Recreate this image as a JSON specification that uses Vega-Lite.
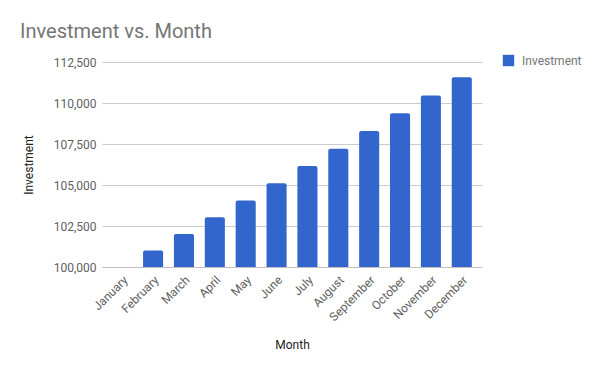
{
  "$schema": "https://vega.github.io/schema/vega-lite/v6.json",
  "width": 380,
  "height": 205,
  "autosize": {"type": "none"},
  "padding": {"left": 102, "top": 62, "right": 118, "bottom": 104},
  "background": "white",
  "title": {
    "text": "Investment vs. Month",
    "anchor": "start",
    "frame": "group",
    "dx": -82,
    "offset": 12,
    "fontSize": 20,
    "fontWeight": "normal",
    "font": "Roboto",
    "color": "#757575"
  },
  "config": {
    "view": {"stroke": null},
    "font": "Roboto"
  },
  "data": {
    "values": [
      {"Month": "January", "Investment": 100000, "Series": "Investment"},
      {"Month": "February", "Investment": 101000, "Series": "Investment"},
      {"Month": "March", "Investment": 102010, "Series": "Investment"},
      {"Month": "April", "Investment": 103030, "Series": "Investment"},
      {"Month": "May", "Investment": 104060, "Series": "Investment"},
      {"Month": "June", "Investment": 105101, "Series": "Investment"},
      {"Month": "July", "Investment": 106152, "Series": "Investment"},
      {"Month": "August", "Investment": 107214, "Series": "Investment"},
      {"Month": "September", "Investment": 108286, "Series": "Investment"},
      {"Month": "October", "Investment": 109369, "Series": "Investment"},
      {"Month": "November", "Investment": 110462, "Series": "Investment"},
      {"Month": "December", "Investment": 111567, "Series": "Investment"}
    ]
  },
  "mark": {"type": "bar", "cornerRadiusTopLeft": 2, "cornerRadiusTopRight": 2},
  "encoding": {
    "x": {
      "field": "Month",
      "type": "nominal",
      "sort": null,
      "scale": {"paddingInner": 0.35, "paddingOuter": 0.33},
      "axis": {
        "title": "Month",
        "titleFont": "Roboto",
        "titleFontWeight": "normal",
        "titleFontSize": 12,
        "titleColor": "#222222",
        "titlePadding": 17,
        "labelAngle": -45,
        "labelFontSize": 12,
        "labelColor": "#616161",
        "labelFont": "Roboto",
        "labelPadding": 7,
        "ticks": false,
        "domain": true,
        "domainColor": "#c0c0c0",
        "grid": false
      }
    },
    "y": {
      "field": "Investment",
      "type": "quantitative",
      "scale": {"domain": [100000, 112500], "zero": false, "nice": false},
      "axis": {
        "title": "Investment",
        "titleFont": "Roboto",
        "titleFontWeight": "normal",
        "titleFontSize": 12,
        "titleColor": "#222222",
        "titlePadding": 18,
        "values": [100000, 102500, 105000, 107500, 110000, 112500],
        "format": ",d",
        "labelFontSize": 12,
        "labelColor": "#616161",
        "labelFont": "Roboto",
        "labelPadding": 6,
        "ticks": false,
        "domain": false,
        "gridColor": "#cccccc"
      }
    },
    "y2": {"datum": 100000},
    "color": {
      "field": "Series",
      "type": "nominal",
      "scale": {"range": ["#3366cc"]},
      "legend": {
        "title": null,
        "orient": "none",
        "legendX": 400,
        "legendY": -8,
        "symbolType": "square",
        "symbolSize": 130,
        "labelFontSize": 12,
        "labelColor": "#757575",
        "labelFont": "Roboto",
        "labelOffset": 7
      }
    }
  }
}
